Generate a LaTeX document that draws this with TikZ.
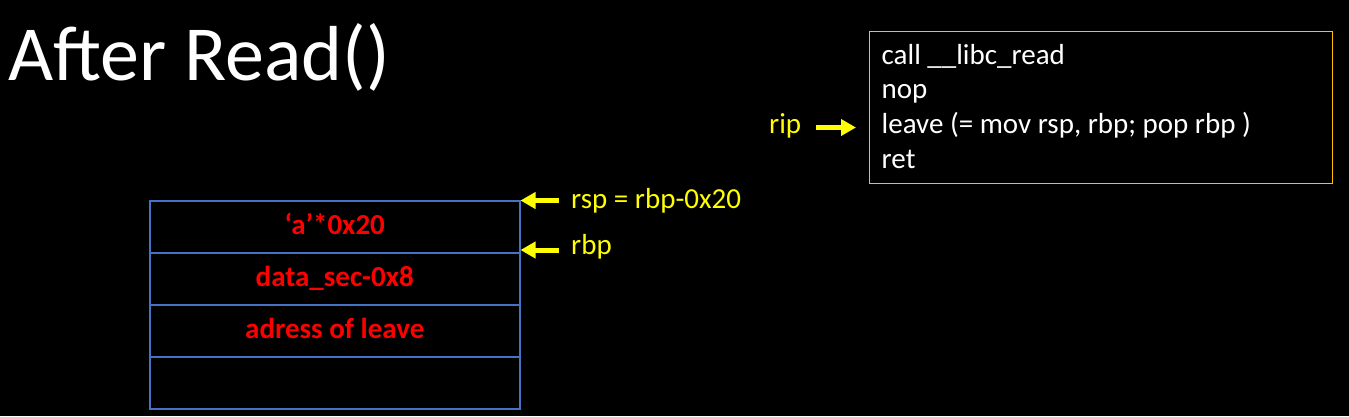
\documentclass[tikz,border=0pt]{standalone}
\usepackage{fontspec}
\setmainfont{Carlito}
\usetikzlibrary{arrows.meta}
\definecolor{stackblue}{RGB}{68,114,196}
\definecolor{boxorange}{RGB}{255,192,0}
\definecolor{ptryellow}{RGB}{255,255,0}
\begin{document}
\begin{tikzpicture}[x=1pt,y=-1pt,
  cell/.style={draw=stackblue,line width=1.5pt,minimum width=370pt,minimum height=52pt,inner sep=0pt,anchor=north west,text=red,text height=16pt,text depth=0pt,font=\fontsize{29}{34}\selectfont\bfseries},
  ptr/.style={text=ptryellow,font=\fontsize{29}{34}\selectfont,anchor=base west,inner sep=0pt},
  code/.style={text=white,font=\fontsize{29}{34}\selectfont,anchor=base west,inner sep=0pt},
  yarrow/.style={draw=ptryellow,line width=5pt,-{Triangle[length=15pt,width=16pt]}}]
\useasboundingbox[fill=black] (0,0) rectangle (1349,416);
\node[text=white,font=\fontsize{78}{80}\selectfont,anchor=base west,inner sep=0pt] (title) at (8,80) {After Read()};
% stack
\node[cell] (c1) at (149,200) {‘a’*0x20};
\node[cell] (c2) at (149,252) {data\_sec-0x8};
\node[cell] (c3) at (149,304) {adress of leave};
\node[cell] (c4) at (149,356) {};
% pointers
\node[ptr] (rsp) at (571,208) {rsp = rbp-0x20};
\node[ptr] (rbp) at (571,254) {rbp};
\coordinate (rspa) at (559,200.5);
\coordinate (rbpa) at (559,250);
\draw[yarrow] (rspa) -- (c1.north east |- rspa);
\draw[yarrow] (rbpa) -- (c2.north east |- rbpa);
% code box
\node[draw=boxorange,line width=1.2pt,minimum width=463pt,minimum height=152pt,anchor=north west,inner sep=0pt] (box) at (869,30.5) {};
\node[code] (l1) at (881.5,64) {call \_\_libc\_read};
\node[code] (l2) at (881.5,98.5) {nop};
\node[code] (l3) at (881.5,133) {leave (= mov rsp, rbp; pop rbp )};
\node[code] (l4) at (881.5,168) {ret};
\node[ptr] (rip) at (769,133) {rip};
\coordinate (ripa) at (816,127.5);
\coordinate (ripb) at (856,127.5);
\draw[yarrow] (ripa) -- (ripb);
\end{tikzpicture}
\end{document}
